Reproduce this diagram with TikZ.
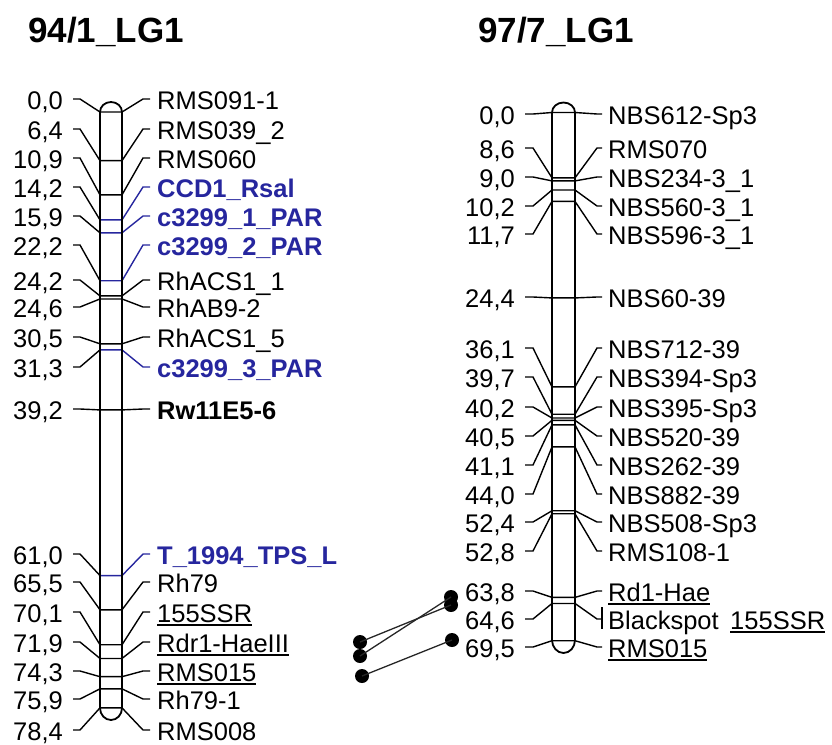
\documentclass[tikz,border=0pt]{standalone}
\usepackage{fontspec}
\setmainfont{Liberation Sans}
\usetikzlibrary{positioning}
\definecolor{mapblue}{RGB}{38,38,158}
\newcommand\mkplain[1]{#1}
\newcommand\mkbold[1]{\textbf{#1}}
\newcommand\mkunder[1]{\setbox0\hbox{#1}\rlap{\rule[-3.5pt]{\wd0}{1.5pt}}\box0}

\begin{document}
\begin{tikzpicture}[
    x=1pt, y=-1pt,
    every node/.style={inner sep=0pt, font=\fontsize{25.5}{30}\selectfont},
    chrom/.style={line width=1.8pt},
    mkline/.style={line width=1.4pt},
    cmlbl/.style={anchor=base east},
    mklbl/.style={anchor=base west},
    title/.style={anchor=base west, font=\fontsize{35}{40}\selectfont\bfseries},
    dot/.style={circle, fill=black, minimum size=14pt},
    link/.style={line width=1.3pt, black!85}
]
\useasboundingbox (0,0) rectangle (832,744);

% titles
\node[title] (t1) at (28,42) {94/1\_LG1};
\node[title] (t2) at (478,42) {97/7\_LG1};

% left group
\foreach \m/\c/\n/\t/\k/\f [count=\i] in {
    0.0/100/{0,0}/RMS091-1/black/\mkplain,
    6.4/130/{6,4}/RMS039\_2/black/\mkplain,
    10.9/159/{10,9}/RMS060/black/\mkplain,
    14.2/188/{14,2}/CCD1\_Rsal/mapblue/\mkbold,
    15.9/217/{15,9}/c3299\_1\_PAR/mapblue/\mkbold,
    22.2/246/{22,2}/c3299\_2\_PAR/mapblue/\mkbold,
    24.2/281/{24,2}/RhACS1\_1/black/\mkplain,
    24.6/308/{24,6}/RhAB9-2/black/\mkplain,
    30.5/338/{30,5}/RhACS1\_5/black/\mkplain,
    31.3/368/{31,3}/c3299\_3\_PAR/mapblue/\mkbold,
    39.2/410/{39,2}/Rw11E5-6/black/\mkbold,
    61.0/555/{61,0}/T\_1994\_TPS\_L/mapblue/\mkbold,
    65.5/583/{65,5}/Rh79/black/\mkplain,
    70.1/613/{70,1}/155SSR/black/\mkunder,
    71.9/643/{71,9}/Rdr1-HaeIII/black/\mkunder,
    74.3/672/{74,3}/RMS015/black/\mkunder,
    75.9/700/{75,9}/Rh79-1/black/\mkplain,
    78.4/731/{78,4}/RMS008/black/\mkplain}{
  \pgfmathsetmacro\my{112+7.6*\m}
  \pgfmathsetmacro\ty{\c-1}
  \pgfmathsetmacro\by{\c+9}
  \node[cmlbl] (lc\i) at (63,\by) {\n};
  \node[mklbl, text=\k] (lm\i) at (157,\by) {\f{\t}};
  \draw[mkline] (73,\ty) -- (80,\ty) -- (100,\my);
  \draw[mkline, \k] (100,\my) -- (122,\my) -- (143,\ty) -- (150,\ty);
}
\draw[chrom] (100,112) -- (100,708)
    arc[start angle=180, end angle=0, x radius=11, y radius=12]
    -- (122,112) arc[start angle=0, end angle=-180, x radius=11, y radius=10];

% right group
\foreach \m/\c/\n/\t/\k/\f [count=\i] in {
    0.0/115/{0,0}/NBS612-Sp3/black/\mkplain,
    8.6/149/{8,6}/RMS070/black/\mkplain,
    9.0/178/{9,0}/NBS234-3\_1/black/\mkplain,
    10.2/207/{10,2}/NBS560-3\_1/black/\mkplain,
    11.7/235/{11,7}/NBS596-3\_1/black/\mkplain,
    24.4/298/{24,4}/NBS60-39/black/\mkplain,
    36.1/349/{36,1}/NBS712-39/black/\mkplain,
    39.7/378/{39,7}/NBS394-Sp3/black/\mkplain,
    40.2/408/{40,2}/NBS395-Sp3/black/\mkplain,
    40.5/437/{40,5}/NBS520-39/black/\mkplain,
    41.1/466/{41,1}/NBS262-39/black/\mkplain,
    44.0/495/{44,0}/NBS882-39/black/\mkplain,
    52.4/523/{52,4}/NBS508-Sp3/black/\mkplain,
    52.8/552/{52,8}/RMS108-1/black/\mkplain,
    63.8/592/{63,8}/Rd1-Hae/black/\mkunder,
    64.6/620/{64,6}/Blackspot\hspace{0.45em}\mkunder{155SSR}/black/\mkplain,
    69.5/648/{69,5}/RMS015/black/\mkunder}{
  \pgfmathsetmacro\my{112.5+7.6*\m}
  \pgfmathsetmacro\ty{\c-1}
  \pgfmathsetmacro\by{\c+9}
  \node[cmlbl] (rc\i) at (515,\by) {\n};
  \node[mklbl, text=\k] (rm\i) at (608,\by) {\f{\t}};
  \draw[mkline] (525,\ty) -- (533,\ty) -- (552,\my);
  \draw[mkline, \k] (552,\my) -- (575,\my) -- (597,\ty) -- (602,\ty);
}
\draw[mkline] (602,607) -- (602,629);
\draw[chrom] (552,112.5) -- (552,640)
    arc[start angle=180, end angle=0, x radius=11.5, y radius=13]
    -- (575,112.5) arc[start angle=0, end angle=-180, x radius=11.5, y radius=10];

% homologous markers
\node[dot] (a1) at (360,642) {};
\node[dot] (a2) at (360,656) {};
\node[dot] (a3) at (362,676) {};
\node[dot] (b1) at (451,597) {};
\node[dot] (b2) at (451,605) {};
\node[dot] (b3) at (452,640) {};
\draw[link] (a1.center) -- (b2.center);
\draw[link] (a2.center) -- (b1.center);
\draw[link] (a3.center) -- (b3.center);
\end{tikzpicture}
\end{document}
